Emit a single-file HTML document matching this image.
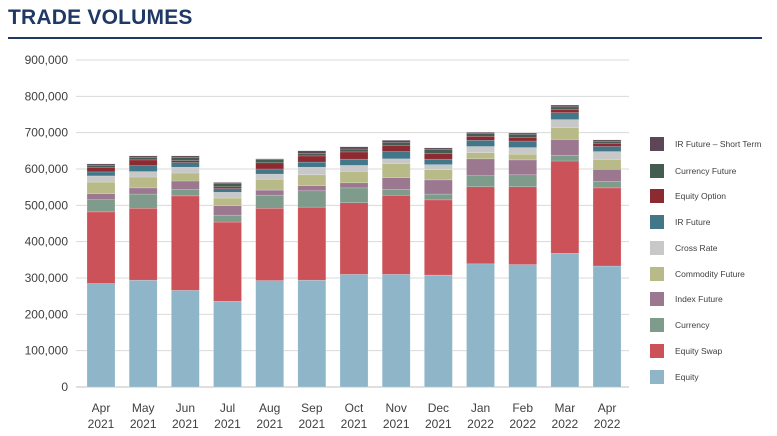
<!DOCTYPE html>
<html><head><meta charset="utf-8"><style>
body{margin:0;background:#fff;width:777px;height:436px;overflow:hidden;font-family:"Liberation Sans",Arial,sans-serif}
#title{position:absolute;left:8px;top:6px;font-size:21px;font-weight:bold;color:#1f3864;letter-spacing:0.2px}
#rule{position:absolute;left:8px;top:37px;width:754px;height:2px;background:#1f3864}
svg{position:absolute;left:0;top:0}
</style></head><body>
<div id="title">TRADE VOLUMES</div>
<div id="rule"></div>
<svg id="chart" width="777" height="436"></svg>
<script>
const categories=["Apr|2021","May|2021","Jun|2021","Jul|2021","Aug|2021","Sep|2021","Oct|2021","Nov|2021","Dec|2021","Jan|2022","Feb|2022","Mar|2022","Apr|2022"];
const seriesNames=["Equity","Equity Swap","Currency","Index Future","Commodity Future","Cross Rate","IR Future","Equity Option","Currency Future","IR Future – Short Term"];
const equity=[285,294,266,236,293,294,310,310,308,339,337,368,333];
const equitySwap=[197,198,260,218,199,201,197,217,207,212,214,254,215];
const currency=[34,39,18,19,36,45,41,17,16,31,33,16,18];
const indexFuture=[16,17,23,26,14,14,14,32,39,46,41,43,33];
const commodityFuture=[32,30,22,21,30,30,31,39,28,17,16,33,27];
const crossRate=[17,15,16,16,14,21,17,13,14,17,18,22,22];
const irFuture=[11,16,13,10,14,14,17,20,15,17,18,19,14];
const equityOption=[12,16,5,5,17,17,20,17,15,11,10,8,9];
const currencyFuture=[6,7,9,9,9,7,8,8,12,8,8,8,4];
const irShortTerm=[4,4,4,3,2,7,6,6,4,3,4,5,5];
const yTicks=[0,100000,200000,300000,400000,500000,600000,700000,800000,900000];
const colors=["#8fb6c8","#cc5259","#7f9b8c","#9b7890","#b8bb87","#c8c8c8","#427689","#8c2a32","#455c50","#5c4657"];
const series=[equity,equitySwap,currency,indexFuture,commodityFuture,crossRate,irFuture,equityOption,currencyFuture,irShortTerm];
const NS="http://www.w3.org/2000/svg";
const svg=document.getElementById("chart");
const y0=387,yTop=60,yMax=900000,x0=80,step=42.17,bw=28;
const yScale=v=>y0-(v/yMax)*(y0-yTop);
const xScale=i=>x0+21+i*step;
function mk(t,a){const e=document.createElementNS(NS,t);for(const k in a)e.setAttribute(k,a[k]);svg.appendChild(e);return e;}
yTicks.forEach(t=>{
 const y=yScale(t);
 const g=mk("line",{x1:76,x2:629,y1:y,y2:y,stroke:t===0?"#bfbfbf":"#d9d9d9","stroke-width":1});
 
 
 const l=mk("text",{x:68,y:y+4,"text-anchor":"end","font-size":12,fill:"#404040"});
 l.textContent=t.toLocaleString("en-US");
 
 
});
categories.forEach((c,i)=>{
 let cum=0;
 series.forEach((s,k)=>{
  const v=s[i]*1000;
  const r=mk("rect",{x:xScale(i)-bw/2,y:yScale(cum+v),width:bw,height:yScale(cum)-yScale(cum+v),fill:colors[k],stroke:"#fff","stroke-opacity":0.35,"stroke-width":0.5});
  
  
  cum+=v;
 });
 const [m,yr]=c.split("|");
 const t1=mk("text",{x:xScale(i),y:412,"text-anchor":"middle","font-size":12,fill:"#404040"});t1.textContent=m;
 
 
 const t2=mk("text",{x:xScale(i),y:428,"text-anchor":"middle","font-size":12,fill:"#404040"});t2.textContent=yr;
 
 
});
const legY=[377,351,325,299,274,248,222,196,171,144];
seriesNames.forEach((n,k)=>{
 const r=mk("rect",{x:650,y:legY[k]-7,width:14,height:14,fill:colors[k]});
 
 
 const t=mk("text",{x:675,y:legY[k]+3,"font-size":8.5,fill:"#404040"});t.textContent=n;
 
 
});
</script>
</body></html>
